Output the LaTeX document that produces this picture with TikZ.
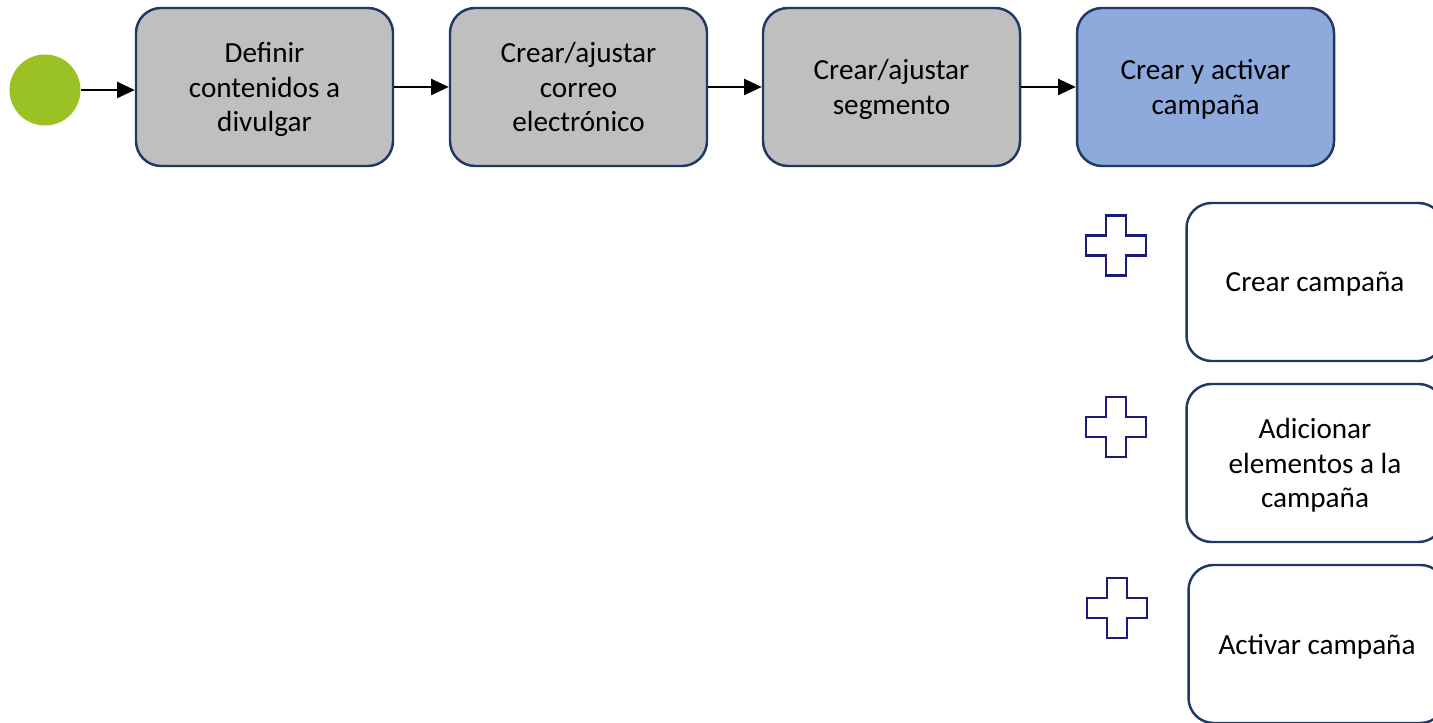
\documentclass[tikz,border=0pt]{standalone}
\usepackage{fontspec}
\setmainfont{Carlito}
\usetikzlibrary{arrows.meta}
\definecolor{gris}{HTML}{BFBFBF}
\definecolor{azul}{HTML}{8EA9DB}
\definecolor{verde}{HTML}{9BC224}
\definecolor{marino}{HTML}{1F3864}
\definecolor{cruzazul}{HTML}{1A1A7A}
\tikzset{
  tarea/.style={draw=marino, line width=0.7pt, rounded corners=0.25cm,
    minimum width=2.57cm, minimum height=1.58cm, align=center,
    font=\fontsize{8.3}{9.9}\selectfont, text depth=0pt},
  flecha/.style={line width=0.7pt, -{Triangle[length=5pt,width=4.5pt]}},
  cruz/.style={draw=cruzazul, line width=0.7pt}
}
\begin{document}
\begin{tikzpicture}
\clip (0,0) rectangle (14.33,7.22);

%flujo principal
\coordinate (C0) at (0.45,6.32);
\coordinate (C1) at (2.645,6.35);
\coordinate (C2) at (5.785,6.35);
\coordinate (C3) at (8.915,6.35);
\coordinate (C4) at (12.055,6.35);
\node[circle, fill=verde, minimum size=0.71cm, inner sep=0pt] (inicio) at (C0) {};
\node[tarea, fill=gris] (definir) at (C1) {Definir\\contenidos a\\divulgar};
\node[tarea, fill=gris] (correo) at (C2) {Crear/ajustar\\correo\\electrónico};
\node[tarea, fill=gris] (segmento) at (C3) {Crear/ajustar\\segmento};
\node[tarea, fill=azul] (campana) at (C4) {Crear y activar\\campaña};
\draw[flecha] (inicio.east) -- (definir.west |- inicio.east);
\draw[flecha] (definir) -- (correo);
\draw[flecha] (correo) -- (segmento);
\draw[flecha] (segmento) -- (campana);

%subproceso
\coordinate (A1) at (13.15,4.40);
\coordinate (A2) at (13.15,2.59);
\coordinate (A3) at (13.17,0.78);
\node[tarea] (crear) at (A1) {Crear campaña};
\node[tarea] (adicionar) at (A2) {Adicionar\\elementos a la\\campaña};
\node[tarea] (activar) at (A3) {Activar campaña};

%cruces
\coordinate (P1) at (11.16,4.765);
\coordinate (P2) at (11.16,2.95);
\coordinate (P3) at (11.17,1.14);
\draw[cruz, shift={(P1)}] (-0.1,0.3) -- (0.1,0.3) -- (0.1,0.1) -- (0.3,0.1) -- (0.3,-0.1) -- (0.1,-0.1) -- (0.1,-0.3) -- (-0.1,-0.3) -- (-0.1,-0.1) -- (-0.3,-0.1) -- (-0.3,0.1) -- (-0.1,0.1) -- cycle;
\draw[cruz, shift={(P2)}] (-0.1,0.3) -- (0.1,0.3) -- (0.1,0.1) -- (0.3,0.1) -- (0.3,-0.1) -- (0.1,-0.1) -- (0.1,-0.3) -- (-0.1,-0.3) -- (-0.1,-0.1) -- (-0.3,-0.1) -- (-0.3,0.1) -- (-0.1,0.1) -- cycle;
\draw[cruz, shift={(P3)}] (-0.1,0.3) -- (0.1,0.3) -- (0.1,0.1) -- (0.3,0.1) -- (0.3,-0.1) -- (0.1,-0.1) -- (0.1,-0.3) -- (-0.1,-0.3) -- (-0.1,-0.1) -- (-0.3,-0.1) -- (-0.3,0.1) -- (-0.1,0.1) -- cycle;
\end{tikzpicture}
\end{document}
